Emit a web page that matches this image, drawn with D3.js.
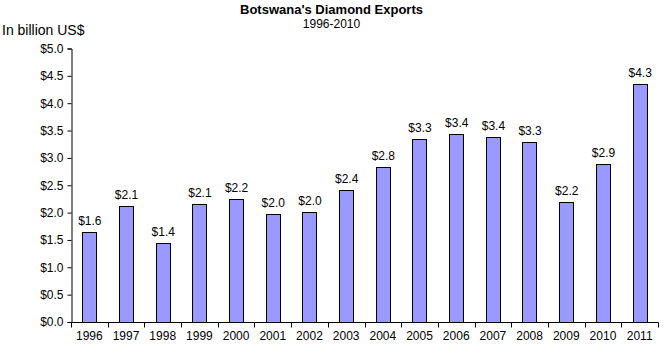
<!DOCTYPE html>
<html>
<head>
<meta charset="utf-8">
<script src="https://cdn.jsdelivr.net/npm/d3@7"></script>
<style>
  html, body { margin: 0; padding: 0; background: #fff; }
  text { font-family: "Liberation Sans", Arial, sans-serif; fill: #000; }
</style>
</head>
<body>
<svg id="chart" width="664" height="345"></svg>
<script>
const years = ["1996","1997","1998","1999","2000","2001","2002","2003","2004","2005","2006","2007","2008","2009","2010","2011"];
const exportsBn = [1.63, 2.11, 1.44, 2.14, 2.24, 1.96, 2.00, 2.40, 2.82, 3.33, 3.43, 3.37, 3.28, 2.18, 2.88, 4.34];
const yTicks = [0, 0.5, 1.0, 1.5, 2.0, 2.5, 3.0, 3.5, 4.0, 4.5, 5.0];
const titleText = "Botswana's Diamond Exports";
const subtitleText = "1996-2010";
const unitText = "In billion US$";

const svg = d3.select("#chart");
const plotLeft = 71, plotRight = 658, plotTop = 48, plotBottom = 321.5;

const x = d3.scaleBand().domain(years).range([plotLeft, plotRight]).paddingInner(0.61).paddingOuter(0.305);
const y = d3.scaleLinear().domain([0, 5]).range([plotBottom, plotTop]);
const fmt = d3.format("$.1f");

// bars
svg.append("g").selectAll("rect").data(years).join("rect")
  .attr("x", d => Math.round(x(d)) + 0.5)
  .attr("width", Math.round(x.bandwidth()))
  .attr("y", (d, i) => Math.round(y(exportsBn[i])) + 0.5)
  .attr("height", (d, i) => Math.round(plotBottom) - Math.round(y(exportsBn[i])))
  .attr("fill", "#9999FF")
  .attr("stroke", "#000")
  .attr("stroke-width", 1);

// value labels
svg.append("g").selectAll("text").data(years).join("text")
  .attr("x", d => x(d) + x.bandwidth() / 2 + 0.5)
  .attr("y", (d, i) => y(exportsBn[i]) - 7)
  .attr("text-anchor", "middle")
  .attr("font-size", "12px")
  .text((d, i) => fmt(exportsBn[i]));

// y axis
const yAxis = d3.axisLeft(y).tickValues(yTicks).tickFormat(fmt).tickSize(4).tickPadding(4);
const gy = svg.append("g").attr("transform", `translate(${plotLeft + 0.5},0.5)`).call(yAxis);
gy.select(".domain").attr("stroke", "#000");
gy.selectAll(".tick line").attr("stroke", "#000");
gy.selectAll(".tick text").attr("font-size", "12px").attr("font-family", "Liberation Sans, Arial, sans-serif").attr("fill", "#000");

// x axis
const gx = svg.append("g").attr("transform", `translate(0,${Math.round(plotBottom) + 0.5})`);
gx.append("line").attr("x1", plotLeft).attr("x2", plotRight + 0.5).attr("stroke", "#000");
const step = x.step();
const boundaries = years.map((d, i) => plotLeft + i * step).concat([plotRight]);
gx.selectAll("line.tk").data(boundaries).join("line").attr("class", "tk")
  .attr("x1", d => Math.round(d) + 0.5).attr("x2", d => Math.round(d) + 0.5)
  .attr("y1", 0).attr("y2", 5).attr("stroke", "#000");
gx.selectAll("text").data(years).join("text")
  .attr("x", d => x(d) + x.bandwidth() / 2)
  .attr("y", 17)
  .attr("text-anchor", "middle")
  .attr("font-size", "12px")
  .text(d => d);

// titles
svg.append("text").attr("x", 331.5).attr("y", 13.5).attr("text-anchor", "middle")
  .attr("font-size", "13px").attr("font-weight", "bold").text(titleText);
svg.append("text").attr("x", 331.5).attr("y", 27.5).attr("text-anchor", "middle")
  .attr("font-size", "12px").text(subtitleText);
svg.append("text").attr("x", 2).attr("y", 35).attr("font-size", "14px").text(unitText);
</script>
</body>
</html>
